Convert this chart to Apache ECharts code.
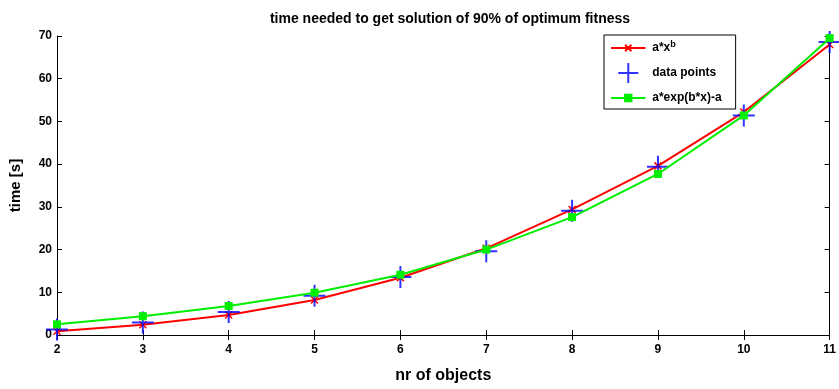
<!DOCTYPE html>
<html>
<head>
<meta charset="utf-8">
<script src="https://cdn.jsdelivr.net/npm/echarts@6/dist/echarts.min.js"></script>
<style>
  html, body { margin: 0; padding: 0; background: #fff; }
  #chart { width: 839px; height: 389px; }
</style>
</head>
<body>
<div id="chart"></div>
<script>
// nr of objects on x
const objects = [2, 3, 4, 5, 6, 7, 8, 9, 10, 11];
// fitted a*x^b
const powerFit = [0.9, 2.4, 4.7, 8.2, 13.4, 20.3, 29.4, 39.6, 52.2, 68.0];
// measured times
const dataPoints = [1.3, 2.9, 5.4, 9.2, 13.6, 19.6, 29.1, 39.4, 51.4, 68.6];
// fitted a*exp(b*x)-a
const expFit = [2.5, 4.4, 6.8, 9.9, 14.1, 20.0, 27.6, 37.7, 51.4, 69.5];

const pairs = ys => objects.map((x, i) => [x, ys[i]]);

const fontFam = '"Liberation Sans", Arial, sans-serif';
const crossX = 'path://M0,0L10,10M10,0L0,10';
const crossPlus = 'path://M5,0L5,10M0,5L10,5';
// legend icons: line + small marker, M0,0 / M38,22 keep the box size
const legendRed = 'path://M0,0M38,22M0,11L38,11M15.5,7.5L22.5,14.5M22.5,7.5L15.5,14.5';
const legendGreen = 'path://M0,0M38,22M0,11L15,11M23,11L38,11M15.5,7.5L22.5,7.5L22.5,14.5L15.5,14.5Z';

const chart = echarts.init(document.getElementById('chart'));

const tickStyle = {show: true, inside: true, length: 5, lineStyle: {color: '#000', width: 1}};

chart.setOption({
  animation: false,
  backgroundColor: '#fff',
  title: {
    text: 'time needed to get solution of 90% of optimum fitness',
    left: 445,
    textAlign: 'center',
    top: 7,
    textStyle: {fontFamily: fontFam, fontSize: 14, fontWeight: 'bold', color: '#000'}
  },
  grid: {left: 56, right: 5, top: 36, bottom: 47},
  legend: {
    orient: 'vertical',
    left: 604,
    top: 35,
    padding: [2, 14, 0, 6],
    itemWidth: 38,
    itemHeight: 20,
    itemGap: 3,
    borderColor: '#000',
    borderWidth: 1,
    backgroundColor: '#fff',
    data: [
      {name: 'a*x^b', icon: legendRed,
       itemStyle: {color: 'rgba(0,0,0,0)', borderColor: '#ff0000', borderWidth: 2}},
      {name: 'data points'},
      {name: 'a*exp(b*x)-a', icon: legendGreen,
       itemStyle: {color: '#00ee00', borderColor: '#00ee00', borderWidth: 2}}
    ],
    formatter: name => name === 'a*x^b' ? 'a*x{sup|b}' : name,
    textStyle: {
      fontFamily: fontFam, fontSize: 12, fontWeight: 'bold', color: '#000',
      rich: {sup: {fontSize: 9, fontWeight: 'bold', verticalAlign: 'top', padding: [0, 0, 6, 0]}}
    }
  },
  xAxis: [{
    type: 'value',
    min: 2, max: 11, interval: 1,
    name: 'nr of objects',
    nameLocation: 'middle',
    nameGap: 33,
    nameTextStyle: {fontFamily: fontFam, fontSize: 16, fontWeight: 'bold', color: '#000'},
    axisLine: {show: true, onZero: false, lineStyle: {color: '#000'}},
    axisTick: tickStyle,
    axisLabel: {fontFamily: fontFam, fontSize: 12, fontWeight: 'bold', color: '#000', margin: 9},
    splitLine: {show: false}
  }, {
    type: 'value', position: 'top',
    min: 2, max: 11, interval: 1,
    axisLine: {show: true, lineStyle: {color: '#000'}},
    axisTick: tickStyle,
    axisLabel: {show: false},
    splitLine: {show: false}
  }],
  yAxis: [{
    type: 'value',
    min: 0, max: 70, interval: 10,
    name: 'time [s]',
    nameLocation: 'middle',
    nameGap: 34,
    nameTextStyle: {fontFamily: fontFam, fontSize: 15, fontWeight: 'bold', color: '#000'},
    axisLine: {show: true, onZero: false, lineStyle: {color: '#000'}},
    axisTick: tickStyle,
    axisLabel: {fontFamily: fontFam, fontSize: 12, fontWeight: 'bold', color: '#000', margin: 5},
    splitLine: {show: false}
  }, {
    type: 'value', position: 'right',
    min: 0, max: 70, interval: 10,
    axisLine: {show: true, lineStyle: {color: '#000'}},
    axisTick: tickStyle,
    axisLabel: {show: false},
    splitLine: {show: false}
  }],
  series: [
    {
      name: 'a*x^b',
      type: 'line',
      data: pairs(powerFit),
      symbol: crossX,
      symbolSize: 7,
      lineStyle: {color: '#ff0000', width: 2},
      itemStyle: {color: 'rgba(0,0,0,0)', borderColor: '#ff0000', borderWidth: 1.5},
      z: 2
    },
    {
      name: 'data points',
      type: 'scatter',
      data: pairs(dataPoints),
      symbol: crossPlus,
      symbolSize: 22,
      itemStyle: {color: 'rgba(0,0,0,0)', borderColor: '#0000ff', borderWidth: 2},
      z: 3
    },
    {
      name: 'a*exp(b*x)-a',
      type: 'line',
      data: pairs(expFit),
      symbol: 'rect',
      symbolSize: 8,
      lineStyle: {color: '#00ee00', width: 2},
      itemStyle: {color: '#00ee00'},
      z: 4
    }
  ]
});
</script>
</body>
</html>
